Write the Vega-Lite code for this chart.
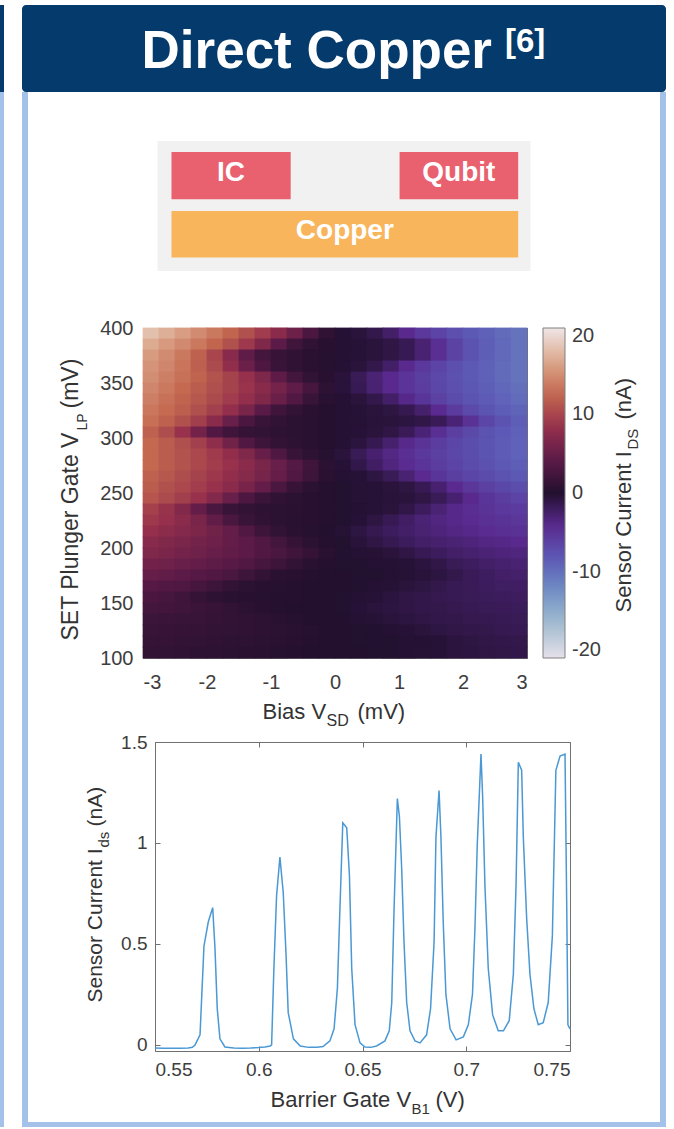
{
"$schema": "https://vega.github.io/schema/vega-lite/v6.json",
"background": "white",
"padding": {"left": 0, "top": 5, "right": 8, "bottom": 2},
"config": {
  "view": {"stroke": null},
  "font": "Liberation Sans",
  "axis": {"labelFont": "Liberation Sans", "titleFont": "Liberation Sans", "titleFontWeight": "normal", "labelColor": "#3d3d3d", "titleColor": "#333333", "domainColor": "#707070", "tickColor": "#707070", "domainWidth": 1, "tickWidth": 1, "grid": false, "zindex": 1},
  "legend": {"labelFont": "Liberation Sans"},
  "text": {"font": "Liberation Sans"}
},
"datasets": {
"heat": [
{"x":-2.875,"y":395,"v":18.4},{"x":-2.625,"y":395,"v":17.3},{"x":-2.375,"y":395,"v":16.1},{"x":-2.125,"y":395,"v":14.9},{"x":-1.875,"y":395,"v":13.7},{"x":-1.625,"y":395,"v":12.4},{"x":-1.375,"y":395,"v":10.9},{"x":-1.125,"y":395,"v":9.3},{"x":-0.875,"y":395,"v":7.5},{"x":-0.625,"y":395,"v":5.4},{"x":-0.375,"y":395,"v":3.0},{"x":-0.125,"y":395,"v":1.0},{"x":0.125,"y":395,"v":-0.2},{"x":0.375,"y":395,"v":-0.6},{"x":0.625,"y":395,"v":-1.3},{"x":0.875,"y":395,"v":-2.5},{"x":1.125,"y":395,"v":-4.1},{"x":1.375,"y":395,"v":-5.5},{"x":1.625,"y":395,"v":-6.5},{"x":1.875,"y":395,"v":-7.4},{"x":2.125,"y":395,"v":-8.3},{"x":2.375,"y":395,"v":-8.9},{"x":2.625,"y":395,"v":-9.6},{"x":2.875,"y":395,"v":-10.2},
{"x":-2.875,"y":385,"v":17.0},{"x":-2.625,"y":385,"v":15.9},{"x":-2.375,"y":385,"v":14.8},{"x":-2.125,"y":385,"v":13.7},{"x":-1.875,"y":385,"v":12.4},{"x":-1.625,"y":385,"v":10.9},{"x":-1.375,"y":385,"v":9.1},{"x":-1.125,"y":385,"v":6.8},{"x":-0.875,"y":385,"v":4.2},{"x":-0.625,"y":385,"v":2.2},{"x":-0.375,"y":385,"v":1.0},{"x":-0.125,"y":385,"v":0.4},{"x":0.125,"y":385,"v":-0.2},{"x":0.375,"y":385,"v":-0.4},{"x":0.625,"y":385,"v":-0.6},{"x":0.875,"y":385,"v":-1.0},{"x":1.125,"y":385,"v":-1.6},{"x":1.375,"y":385,"v":-2.9},{"x":1.625,"y":385,"v":-4.6},{"x":1.875,"y":385,"v":-6.4},{"x":2.125,"y":385,"v":-7.7},{"x":2.375,"y":385,"v":-8.7},{"x":2.625,"y":385,"v":-9.5},{"x":2.875,"y":385,"v":-10.2},
{"x":-2.875,"y":375,"v":16.0},{"x":-2.625,"y":375,"v":14.9},{"x":-2.375,"y":375,"v":13.7},{"x":-2.125,"y":375,"v":12.1},{"x":-1.875,"y":375,"v":10.0},{"x":-1.625,"y":375,"v":7.3},{"x":-1.375,"y":375,"v":4.5},{"x":-1.125,"y":375,"v":2.5},{"x":-0.875,"y":375,"v":1.5},{"x":-0.625,"y":375,"v":1.0},{"x":-0.375,"y":375,"v":0.6},{"x":-0.125,"y":375,"v":0.3},{"x":0.125,"y":375,"v":-0.2},{"x":0.375,"y":375,"v":-0.4},{"x":0.625,"y":375,"v":-0.6},{"x":0.875,"y":375,"v":-1.0},{"x":1.125,"y":375,"v":-1.6},{"x":1.375,"y":375,"v":-2.9},{"x":1.625,"y":375,"v":-4.6},{"x":1.875,"y":375,"v":-6.4},{"x":2.125,"y":375,"v":-7.7},{"x":2.375,"y":375,"v":-8.7},{"x":2.625,"y":375,"v":-9.5},{"x":2.875,"y":375,"v":-10.2},
{"x":-2.875,"y":365,"v":15.5},{"x":-2.625,"y":365,"v":14.6},{"x":-2.375,"y":365,"v":13.4},{"x":-2.125,"y":365,"v":12.0},{"x":-1.875,"y":365,"v":10.4},{"x":-1.625,"y":365,"v":8.0},{"x":-1.375,"y":365,"v":5.3},{"x":-1.125,"y":365,"v":3.1},{"x":-0.875,"y":365,"v":1.7},{"x":-0.625,"y":365,"v":1.0},{"x":-0.375,"y":365,"v":0.6},{"x":-0.125,"y":365,"v":0.3},{"x":0.125,"y":365,"v":-0.2},{"x":0.375,"y":365,"v":-0.6},{"x":0.625,"y":365,"v":-1.3},{"x":0.875,"y":365,"v":-2.5},{"x":1.125,"y":365,"v":-4.1},{"x":1.375,"y":365,"v":-5.5},{"x":1.625,"y":365,"v":-6.5},{"x":1.875,"y":365,"v":-7.4},{"x":2.125,"y":365,"v":-8.3},{"x":2.375,"y":365,"v":-8.9},{"x":2.625,"y":365,"v":-9.6},{"x":2.875,"y":365,"v":-10.2},
{"x":-2.875,"y":355,"v":15.1},{"x":-2.625,"y":355,"v":14.1},{"x":-2.375,"y":355,"v":13.2},{"x":-2.125,"y":355,"v":12.2},{"x":-1.875,"y":355,"v":11.0},{"x":-1.625,"y":355,"v":9.8},{"x":-1.375,"y":355,"v":8.4},{"x":-1.125,"y":355,"v":6.6},{"x":-0.875,"y":355,"v":4.4},{"x":-0.625,"y":355,"v":2.4},{"x":-0.375,"y":355,"v":1.1},{"x":-0.125,"y":355,"v":0.4},{"x":0.125,"y":355,"v":-0.5},{"x":0.375,"y":355,"v":-1.7},{"x":0.625,"y":355,"v":-3.0},{"x":0.875,"y":355,"v":-4.1},{"x":1.125,"y":355,"v":-5.1},{"x":1.375,"y":355,"v":-6.0},{"x":1.625,"y":355,"v":-6.8},{"x":1.875,"y":355,"v":-7.6},{"x":2.125,"y":355,"v":-8.3},{"x":2.375,"y":355,"v":-8.9},{"x":2.625,"y":355,"v":-9.6},{"x":2.875,"y":355,"v":-10.2},
{"x":-2.875,"y":345,"v":14.6},{"x":-2.625,"y":345,"v":13.7},{"x":-2.375,"y":345,"v":12.7},{"x":-2.125,"y":345,"v":11.8},{"x":-1.875,"y":345,"v":10.8},{"x":-1.625,"y":345,"v":9.8},{"x":-1.375,"y":345,"v":8.7},{"x":-1.125,"y":345,"v":7.4},{"x":-0.875,"y":345,"v":6.0},{"x":-0.625,"y":345,"v":4.5},{"x":-0.375,"y":345,"v":2.7},{"x":-0.125,"y":345,"v":0.9},{"x":0.125,"y":345,"v":-0.5},{"x":0.375,"y":345,"v":-1.6},{"x":0.625,"y":345,"v":-2.9},{"x":0.875,"y":345,"v":-4.1},{"x":1.125,"y":345,"v":-5.1},{"x":1.375,"y":345,"v":-5.9},{"x":1.625,"y":345,"v":-6.7},{"x":1.875,"y":345,"v":-7.4},{"x":2.125,"y":345,"v":-8.1},{"x":2.375,"y":345,"v":-8.7},{"x":2.625,"y":345,"v":-9.4},{"x":2.875,"y":345,"v":-10.0},
{"x":-2.875,"y":335,"v":14.1},{"x":-2.625,"y":335,"v":13.2},{"x":-2.375,"y":335,"v":12.3},{"x":-2.125,"y":335,"v":11.4},{"x":-1.875,"y":335,"v":10.4},{"x":-1.625,"y":335,"v":9.3},{"x":-1.375,"y":335,"v":8.2},{"x":-1.125,"y":335,"v":6.8},{"x":-0.875,"y":335,"v":5.2},{"x":-0.625,"y":335,"v":3.3},{"x":-0.375,"y":335,"v":1.6},{"x":-0.125,"y":335,"v":0.5},{"x":0.125,"y":335,"v":-0.2},{"x":0.375,"y":335,"v":-0.6},{"x":0.625,"y":335,"v":-1.3},{"x":0.875,"y":335,"v":-2.4},{"x":1.125,"y":335,"v":-3.9},{"x":1.375,"y":335,"v":-5.2},{"x":1.625,"y":335,"v":-6.2},{"x":1.875,"y":335,"v":-7.1},{"x":2.125,"y":335,"v":-7.9},{"x":2.375,"y":335,"v":-8.5},{"x":2.625,"y":335,"v":-9.1},{"x":2.875,"y":335,"v":-9.7},
{"x":-2.875,"y":325,"v":13.6},{"x":-2.625,"y":325,"v":12.8},{"x":-2.375,"y":325,"v":11.9},{"x":-2.125,"y":325,"v":10.8},{"x":-1.875,"y":325,"v":9.6},{"x":-1.625,"y":325,"v":8.2},{"x":-1.375,"y":325,"v":6.3},{"x":-1.125,"y":325,"v":4.0},{"x":-0.875,"y":325,"v":2.2},{"x":-0.625,"y":325,"v":1.2},{"x":-0.375,"y":325,"v":0.6},{"x":-0.125,"y":325,"v":0.2},{"x":0.125,"y":325,"v":-0.2},{"x":0.375,"y":325,"v":-0.4},{"x":0.625,"y":325,"v":-0.6},{"x":0.875,"y":325,"v":-0.9},{"x":1.125,"y":325,"v":-1.5},{"x":1.375,"y":325,"v":-2.6},{"x":1.625,"y":325,"v":-4.2},{"x":1.875,"y":325,"v":-5.8},{"x":2.125,"y":325,"v":-7.0},{"x":2.375,"y":325,"v":-7.9},{"x":2.625,"y":325,"v":-8.6},{"x":2.875,"y":325,"v":-9.2},
{"x":-2.875,"y":315,"v":13.1},{"x":-2.625,"y":315,"v":12.1},{"x":-2.375,"y":315,"v":10.9},{"x":-2.125,"y":315,"v":9.5},{"x":-1.875,"y":315,"v":7.5},{"x":-1.625,"y":315,"v":5.1},{"x":-1.375,"y":315,"v":3.0},{"x":-1.125,"y":315,"v":1.7},{"x":-0.875,"y":315,"v":1.1},{"x":-0.625,"y":315,"v":0.7},{"x":-0.375,"y":315,"v":0.5},{"x":-0.125,"y":315,"v":0.2},{"x":0.125,"y":315,"v":-0.2},{"x":0.375,"y":315,"v":-0.3},{"x":0.625,"y":315,"v":-0.5},{"x":0.875,"y":315,"v":-0.6},{"x":1.125,"y":315,"v":-0.8},{"x":1.375,"y":315,"v":-1.1},{"x":1.625,"y":315,"v":-1.8},{"x":1.875,"y":315,"v":-3.1},{"x":2.125,"y":315,"v":-4.9},{"x":2.375,"y":315,"v":-6.6},{"x":2.625,"y":315,"v":-7.8},{"x":2.875,"y":315,"v":-8.7},
{"x":-2.875,"y":305,"v":12.1},{"x":-2.625,"y":305,"v":10.6},{"x":-2.375,"y":305,"v":8.5},{"x":-2.125,"y":305,"v":5.9},{"x":-1.875,"y":305,"v":3.5},{"x":-1.625,"y":305,"v":2.1},{"x":-1.375,"y":305,"v":1.4},{"x":-1.125,"y":305,"v":1.1},{"x":-0.875,"y":305,"v":0.9},{"x":-0.625,"y":305,"v":0.7},{"x":-0.375,"y":305,"v":0.5},{"x":-0.125,"y":305,"v":0.2},{"x":0.125,"y":305,"v":-0.2},{"x":0.375,"y":305,"v":-0.4},{"x":0.625,"y":305,"v":-0.6},{"x":0.875,"y":305,"v":-1.0},{"x":1.125,"y":305,"v":-1.8},{"x":1.375,"y":305,"v":-3.1},{"x":1.625,"y":305,"v":-4.6},{"x":1.875,"y":305,"v":-6.0},{"x":2.125,"y":305,"v":-6.9},{"x":2.375,"y":305,"v":-7.7},{"x":2.625,"y":305,"v":-8.4},{"x":2.875,"y":305,"v":-8.9},
{"x":-2.875,"y":295,"v":12.6},{"x":-2.625,"y":295,"v":11.7},{"x":-2.375,"y":295,"v":10.8},{"x":-2.125,"y":295,"v":9.6},{"x":-1.875,"y":295,"v":7.9},{"x":-1.625,"y":295,"v":5.7},{"x":-1.375,"y":295,"v":3.5},{"x":-1.125,"y":295,"v":2.0},{"x":-0.875,"y":295,"v":1.2},{"x":-0.625,"y":295,"v":0.8},{"x":-0.375,"y":295,"v":0.5},{"x":-0.125,"y":295,"v":0.2},{"x":0.125,"y":295,"v":-0.2},{"x":0.375,"y":295,"v":-0.7},{"x":0.625,"y":295,"v":-1.5},{"x":0.875,"y":295,"v":-2.7},{"x":1.125,"y":295,"v":-4.0},{"x":1.375,"y":295,"v":-5.0},{"x":1.625,"y":295,"v":-5.9},{"x":1.875,"y":295,"v":-6.6},{"x":2.125,"y":295,"v":-7.3},{"x":2.375,"y":295,"v":-7.9},{"x":2.625,"y":295,"v":-8.5},{"x":2.875,"y":295,"v":-9.0},
{"x":-2.875,"y":285,"v":12.6},{"x":-2.625,"y":285,"v":11.8},{"x":-2.375,"y":285,"v":11.0},{"x":-2.125,"y":285,"v":10.2},{"x":-1.875,"y":285,"v":9.2},{"x":-1.625,"y":285,"v":8.1},{"x":-1.375,"y":285,"v":6.8},{"x":-1.125,"y":285,"v":5.0},{"x":-0.875,"y":285,"v":3.2},{"x":-0.625,"y":285,"v":1.6},{"x":-0.375,"y":285,"v":0.8},{"x":-0.125,"y":285,"v":0.3},{"x":0.125,"y":285,"v":-0.6},{"x":0.375,"y":285,"v":-1.7},{"x":0.625,"y":285,"v":-2.8},{"x":0.875,"y":285,"v":-3.7},{"x":1.125,"y":285,"v":-4.6},{"x":1.375,"y":285,"v":-5.4},{"x":1.625,"y":285,"v":-6.1},{"x":1.875,"y":285,"v":-6.7},{"x":2.125,"y":285,"v":-7.3},{"x":2.375,"y":285,"v":-7.9},{"x":2.625,"y":285,"v":-8.5},{"x":2.875,"y":285,"v":-9.0},
{"x":-2.875,"y":275,"v":12.6},{"x":-2.625,"y":275,"v":11.8},{"x":-2.375,"y":275,"v":11.0},{"x":-2.125,"y":275,"v":10.2},{"x":-1.875,"y":275,"v":9.4},{"x":-1.625,"y":275,"v":8.5},{"x":-1.375,"y":275,"v":7.5},{"x":-1.125,"y":275,"v":6.4},{"x":-0.875,"y":275,"v":5.1},{"x":-0.625,"y":275,"v":3.7},{"x":-0.375,"y":275,"v":2.1},{"x":-0.125,"y":275,"v":0.7},{"x":0.125,"y":275,"v":-0.4},{"x":0.375,"y":275,"v":-1.2},{"x":0.625,"y":275,"v":-2.3},{"x":0.875,"y":275,"v":-3.4},{"x":1.125,"y":275,"v":-4.3},{"x":1.375,"y":275,"v":-5.1},{"x":1.625,"y":275,"v":-5.9},{"x":1.875,"y":275,"v":-6.5},{"x":2.125,"y":275,"v":-7.1},{"x":2.375,"y":275,"v":-7.6},{"x":2.625,"y":275,"v":-8.2},{"x":2.875,"y":275,"v":-8.7},
{"x":-2.875,"y":265,"v":12.1},{"x":-2.625,"y":265,"v":11.4},{"x":-2.375,"y":265,"v":10.6},{"x":-2.125,"y":265,"v":9.8},{"x":-1.875,"y":265,"v":9.0},{"x":-1.625,"y":265,"v":8.1},{"x":-1.375,"y":265,"v":7.2},{"x":-1.125,"y":265,"v":6.1},{"x":-0.875,"y":265,"v":4.9},{"x":-0.625,"y":265,"v":3.5},{"x":-0.375,"y":265,"v":2.0},{"x":-0.125,"y":265,"v":0.6},{"x":0.125,"y":265,"v":-0.2},{"x":0.375,"y":265,"v":-0.4},{"x":0.625,"y":265,"v":-0.9},{"x":0.875,"y":265,"v":-1.7},{"x":1.125,"y":265,"v":-2.9},{"x":1.375,"y":265,"v":-4.2},{"x":1.625,"y":265,"v":-5.2},{"x":1.875,"y":265,"v":-6.0},{"x":2.125,"y":265,"v":-6.6},{"x":2.375,"y":265,"v":-7.2},{"x":2.625,"y":265,"v":-7.7},{"x":2.875,"y":265,"v":-8.3},
{"x":-2.875,"y":255,"v":11.7},{"x":-2.625,"y":255,"v":10.9},{"x":-2.375,"y":255,"v":10.2},{"x":-2.125,"y":255,"v":9.4},{"x":-1.875,"y":255,"v":8.5},{"x":-1.625,"y":255,"v":7.5},{"x":-1.375,"y":255,"v":6.2},{"x":-1.125,"y":255,"v":4.7},{"x":-0.875,"y":255,"v":2.9},{"x":-0.625,"y":255,"v":1.5},{"x":-0.375,"y":255,"v":0.7},{"x":-0.125,"y":255,"v":0.2},{"x":0.125,"y":255,"v":-0.1},{"x":0.375,"y":255,"v":-0.3},{"x":0.625,"y":255,"v":-0.4},{"x":0.875,"y":255,"v":-0.6},{"x":1.125,"y":255,"v":-0.9},{"x":1.375,"y":255,"v":-1.6},{"x":1.625,"y":255,"v":-2.8},{"x":1.875,"y":255,"v":-4.2},{"x":2.125,"y":255,"v":-5.3},{"x":2.375,"y":255,"v":-6.1},{"x":2.625,"y":255,"v":-6.7},{"x":2.875,"y":255,"v":-7.3},
{"x":-2.875,"y":245,"v":11.2},{"x":-2.625,"y":245,"v":10.4},{"x":-2.375,"y":245,"v":9.5},{"x":-2.125,"y":245,"v":8.5},{"x":-1.875,"y":245,"v":7.0},{"x":-1.625,"y":245,"v":5.1},{"x":-1.375,"y":245,"v":3.1},{"x":-1.125,"y":245,"v":1.8},{"x":-0.875,"y":245,"v":1.0},{"x":-0.625,"y":245,"v":0.7},{"x":-0.375,"y":245,"v":0.4},{"x":-0.125,"y":245,"v":0.2},{"x":0.125,"y":245,"v":-0.1},{"x":0.375,"y":245,"v":-0.3},{"x":0.625,"y":245,"v":-0.4},{"x":0.875,"y":245,"v":-0.5},{"x":1.125,"y":245,"v":-0.6},{"x":1.375,"y":245,"v":-1.0},{"x":1.625,"y":245,"v":-1.7},{"x":1.875,"y":245,"v":-2.8},{"x":2.125,"y":245,"v":-4.1},{"x":2.375,"y":245,"v":-5.2},{"x":2.625,"y":245,"v":-5.9},{"x":2.875,"y":245,"v":-6.5},
{"x":-2.875,"y":235,"v":9.7},{"x":-2.625,"y":235,"v":8.6},{"x":-2.375,"y":235,"v":6.9},{"x":-2.125,"y":235,"v":4.7},{"x":-1.875,"y":235,"v":2.9},{"x":-1.625,"y":235,"v":1.7},{"x":-1.375,"y":235,"v":1.2},{"x":-1.125,"y":235,"v":0.9},{"x":-0.875,"y":235,"v":0.7},{"x":-0.625,"y":235,"v":0.6},{"x":-0.375,"y":235,"v":0.4},{"x":-0.125,"y":235,"v":0.2},{"x":0.125,"y":235,"v":-0.1},{"x":0.375,"y":235,"v":-0.2},{"x":0.625,"y":235,"v":-0.4},{"x":0.875,"y":235,"v":-0.6},{"x":1.125,"y":235,"v":-1.1},{"x":1.375,"y":235,"v":-2.0},{"x":1.625,"y":235,"v":-3.0},{"x":1.875,"y":235,"v":-3.9},{"x":2.125,"y":235,"v":-4.5},{"x":2.375,"y":235,"v":-5.0},{"x":2.625,"y":235,"v":-5.5},{"x":2.875,"y":235,"v":-5.8},
{"x":-2.875,"y":225,"v":9.1},{"x":-2.625,"y":225,"v":8.4},{"x":-2.375,"y":225,"v":7.5},{"x":-2.125,"y":225,"v":6.3},{"x":-1.875,"y":225,"v":4.6},{"x":-1.625,"y":225,"v":2.9},{"x":-1.375,"y":225,"v":1.7},{"x":-1.125,"y":225,"v":1.0},{"x":-0.875,"y":225,"v":0.7},{"x":-0.625,"y":225,"v":0.5},{"x":-0.375,"y":225,"v":0.4},{"x":-0.125,"y":225,"v":0.2},{"x":0.125,"y":225,"v":-0.1},{"x":0.375,"y":225,"v":-0.4},{"x":0.625,"y":225,"v":-0.9},{"x":0.875,"y":225,"v":-1.6},{"x":1.125,"y":225,"v":-2.3},{"x":1.375,"y":225,"v":-3.0},{"x":1.625,"y":225,"v":-3.5},{"x":1.875,"y":225,"v":-3.9},{"x":2.125,"y":225,"v":-4.3},{"x":2.375,"y":225,"v":-4.7},{"x":2.625,"y":225,"v":-5.0},{"x":2.875,"y":225,"v":-5.3},
{"x":-2.875,"y":215,"v":8.3},{"x":-2.625,"y":215,"v":7.7},{"x":-2.375,"y":215,"v":7.1},{"x":-2.125,"y":215,"v":6.5},{"x":-1.875,"y":215,"v":5.7},{"x":-1.625,"y":215,"v":4.7},{"x":-1.375,"y":215,"v":3.3},{"x":-1.125,"y":215,"v":2.0},{"x":-0.875,"y":215,"v":1.1},{"x":-0.625,"y":215,"v":0.6},{"x":-0.375,"y":215,"v":0.3},{"x":-0.125,"y":215,"v":0.1},{"x":0.125,"y":215,"v":-0.3},{"x":0.375,"y":215,"v":-0.9},{"x":0.625,"y":215,"v":-1.5},{"x":0.875,"y":215,"v":-2.0},{"x":1.125,"y":215,"v":-2.5},{"x":1.375,"y":215,"v":-2.9},{"x":1.625,"y":215,"v":-3.3},{"x":1.875,"y":215,"v":-3.6},{"x":2.125,"y":215,"v":-3.9},{"x":2.375,"y":215,"v":-4.3},{"x":2.625,"y":215,"v":-4.6},{"x":2.875,"y":215,"v":-4.9},
{"x":-2.875,"y":205,"v":7.3},{"x":-2.625,"y":205,"v":6.8},{"x":-2.375,"y":205,"v":6.4},{"x":-2.125,"y":205,"v":5.9},{"x":-1.875,"y":205,"v":5.4},{"x":-1.625,"y":205,"v":4.8},{"x":-1.375,"y":205,"v":4.1},{"x":-1.125,"y":205,"v":3.4},{"x":-0.875,"y":205,"v":2.4},{"x":-0.625,"y":205,"v":1.4},{"x":-0.375,"y":205,"v":0.7},{"x":-0.125,"y":205,"v":0.2},{"x":0.125,"y":205,"v":-0.1},{"x":0.375,"y":205,"v":-0.5},{"x":0.625,"y":205,"v":-1.0},{"x":0.875,"y":205,"v":-1.5},{"x":1.125,"y":205,"v":-2.0},{"x":1.375,"y":205,"v":-2.4},{"x":1.625,"y":205,"v":-2.7},{"x":1.875,"y":205,"v":-3.0},{"x":2.125,"y":205,"v":-3.3},{"x":2.375,"y":205,"v":-3.6},{"x":2.625,"y":205,"v":-3.8},{"x":2.875,"y":205,"v":-4.1},
{"x":-2.875,"y":195,"v":6.8},{"x":-2.625,"y":195,"v":6.4},{"x":-2.375,"y":195,"v":5.9},{"x":-2.125,"y":195,"v":5.5},{"x":-1.875,"y":195,"v":5.0},{"x":-1.625,"y":195,"v":4.6},{"x":-1.375,"y":195,"v":4.1},{"x":-1.125,"y":195,"v":3.5},{"x":-0.875,"y":195,"v":2.9},{"x":-0.625,"y":195,"v":2.2},{"x":-0.375,"y":195,"v":1.4},{"x":-0.125,"y":195,"v":0.5},{"x":0.125,"y":195,"v":-0.1},{"x":0.375,"y":195,"v":-0.2},{"x":0.625,"y":195,"v":-0.3},{"x":0.875,"y":195,"v":-0.6},{"x":1.125,"y":195,"v":-1.0},{"x":1.375,"y":195,"v":-1.6},{"x":1.625,"y":195,"v":-2.0},{"x":1.875,"y":195,"v":-2.4},{"x":2.125,"y":195,"v":-2.7},{"x":2.375,"y":195,"v":-3.0},{"x":2.625,"y":195,"v":-3.2},{"x":2.875,"y":195,"v":-3.4},
{"x":-2.875,"y":185,"v":5.8},{"x":-2.625,"y":185,"v":5.5},{"x":-2.375,"y":185,"v":5.1},{"x":-2.125,"y":185,"v":4.7},{"x":-1.875,"y":185,"v":4.3},{"x":-1.625,"y":185,"v":3.9},{"x":-1.375,"y":185,"v":3.3},{"x":-1.125,"y":185,"v":2.7},{"x":-0.875,"y":185,"v":2.0},{"x":-0.625,"y":185,"v":1.2},{"x":-0.375,"y":185,"v":0.5},{"x":-0.125,"y":185,"v":0.2},{"x":0.125,"y":185,"v":-0.1},{"x":0.375,"y":185,"v":-0.1},{"x":0.625,"y":185,"v":-0.2},{"x":0.875,"y":185,"v":-0.2},{"x":1.125,"y":185,"v":-0.4},{"x":1.375,"y":185,"v":-0.7},{"x":1.625,"y":185,"v":-1.1},{"x":1.875,"y":185,"v":-1.7},{"x":2.125,"y":185,"v":-2.1},{"x":2.375,"y":185,"v":-2.4},{"x":2.625,"y":185,"v":-2.7},{"x":2.875,"y":185,"v":-2.9},
{"x":-2.875,"y":175,"v":4.9},{"x":-2.625,"y":175,"v":4.6},{"x":-2.375,"y":175,"v":4.2},{"x":-2.125,"y":175,"v":3.8},{"x":-1.875,"y":175,"v":3.4},{"x":-1.625,"y":175,"v":2.8},{"x":-1.375,"y":175,"v":2.0},{"x":-1.125,"y":175,"v":1.2},{"x":-0.875,"y":175,"v":0.6},{"x":-0.625,"y":175,"v":0.4},{"x":-0.375,"y":175,"v":0.2},{"x":-0.125,"y":175,"v":0.1},{"x":0.125,"y":175,"v":0},{"x":0.375,"y":175,"v":-0.1},{"x":0.625,"y":175,"v":-0.1},{"x":0.875,"y":175,"v":-0.2},{"x":1.125,"y":175,"v":-0.3},{"x":1.375,"y":175,"v":-0.5},{"x":1.625,"y":175,"v":-0.8},{"x":1.875,"y":175,"v":-1.3},{"x":2.125,"y":175,"v":-1.8},{"x":2.375,"y":175,"v":-2.1},{"x":2.625,"y":175,"v":-2.4},{"x":2.875,"y":175,"v":-2.6},
{"x":-2.875,"y":165,"v":3.8},{"x":-2.625,"y":165,"v":3.5},{"x":-2.375,"y":165,"v":3.2},{"x":-2.125,"y":165,"v":2.7},{"x":-1.875,"y":165,"v":2.0},{"x":-1.625,"y":165,"v":1.2},{"x":-1.375,"y":165,"v":0.7},{"x":-1.125,"y":165,"v":0.4},{"x":-0.875,"y":165,"v":0.3},{"x":-0.625,"y":165,"v":0.2},{"x":-0.375,"y":165,"v":0.1},{"x":-0.125,"y":165,"v":0.1},{"x":0.125,"y":165,"v":0},{"x":0.375,"y":165,"v":-0.1},{"x":0.625,"y":165,"v":-0.2},{"x":0.875,"y":165,"v":-0.3},{"x":1.125,"y":165,"v":-0.6},{"x":1.375,"y":165,"v":-0.9},{"x":1.625,"y":165,"v":-1.3},{"x":1.875,"y":165,"v":-1.6},{"x":2.125,"y":165,"v":-1.8},{"x":2.375,"y":165,"v":-2.0},{"x":2.625,"y":165,"v":-2.2},{"x":2.875,"y":165,"v":-2.3},
{"x":-2.875,"y":155,"v":3.0},{"x":-2.625,"y":155,"v":2.6},{"x":-2.375,"y":155,"v":2.1},{"x":-2.125,"y":155,"v":1.4},{"x":-1.875,"y":155,"v":0.9},{"x":-1.625,"y":155,"v":0.5},{"x":-1.375,"y":155,"v":0.4},{"x":-1.125,"y":155,"v":0.3},{"x":-0.875,"y":155,"v":0.2},{"x":-0.625,"y":155,"v":0.2},{"x":-0.375,"y":155,"v":0.1},{"x":-0.125,"y":155,"v":0.1},{"x":0.125,"y":155,"v":-0.1},{"x":0.375,"y":155,"v":-0.2},{"x":0.625,"y":155,"v":-0.4},{"x":0.875,"y":155,"v":-0.7},{"x":1.125,"y":155,"v":-1.0},{"x":1.375,"y":155,"v":-1.2},{"x":1.625,"y":155,"v":-1.4},{"x":1.875,"y":155,"v":-1.6},{"x":2.125,"y":155,"v":-1.7},{"x":2.375,"y":155,"v":-1.9},{"x":2.625,"y":155,"v":-2.0},{"x":2.875,"y":155,"v":-2.1},
{"x":-2.875,"y":145,"v":2.4},{"x":-2.625,"y":145,"v":2.3},{"x":-2.375,"y":145,"v":2.1},{"x":-2.125,"y":145,"v":1.8},{"x":-1.875,"y":145,"v":1.5},{"x":-1.625,"y":145,"v":1.1},{"x":-1.375,"y":145,"v":0.7},{"x":-1.125,"y":145,"v":0.4},{"x":-0.875,"y":145,"v":0.2},{"x":-0.625,"y":145,"v":0.1},{"x":-0.375,"y":145,"v":0.1},{"x":-0.125,"y":145,"v":0},{"x":0.125,"y":145,"v":-0.1},{"x":0.375,"y":145,"v":-0.4},{"x":0.625,"y":145,"v":-0.6},{"x":0.875,"y":145,"v":-0.8},{"x":1.125,"y":145,"v":-1.0},{"x":1.375,"y":145,"v":-1.2},{"x":1.625,"y":145,"v":-1.3},{"x":1.875,"y":145,"v":-1.4},{"x":2.125,"y":145,"v":-1.6},{"x":2.375,"y":145,"v":-1.7},{"x":2.625,"y":145,"v":-1.8},{"x":2.875,"y":145,"v":-1.9},
{"x":-2.875,"y":135,"v":1.9},{"x":-2.625,"y":135,"v":1.8},{"x":-2.375,"y":135,"v":1.7},{"x":-2.125,"y":135,"v":1.6},{"x":-1.875,"y":135,"v":1.4},{"x":-1.625,"y":135,"v":1.2},{"x":-1.375,"y":135,"v":1.0},{"x":-1.125,"y":135,"v":0.8},{"x":-0.875,"y":135,"v":0.5},{"x":-0.625,"y":135,"v":0.3},{"x":-0.375,"y":135,"v":0.1},{"x":-0.125,"y":135,"v":0},{"x":0.125,"y":135,"v":0},{"x":0.375,"y":135,"v":-0.2},{"x":0.625,"y":135,"v":-0.3},{"x":0.875,"y":135,"v":-0.6},{"x":1.125,"y":135,"v":-0.8},{"x":1.375,"y":135,"v":-1.0},{"x":1.625,"y":135,"v":-1.2},{"x":1.875,"y":135,"v":-1.3},{"x":2.125,"y":135,"v":-1.4},{"x":2.375,"y":135,"v":-1.5},{"x":2.625,"y":135,"v":-1.6},{"x":2.875,"y":135,"v":-1.7},
{"x":-2.875,"y":125,"v":1.7},{"x":-2.625,"y":125,"v":1.5},{"x":-2.375,"y":125,"v":1.4},{"x":-2.125,"y":125,"v":1.3},{"x":-1.875,"y":125,"v":1.2},{"x":-1.625,"y":125,"v":1.1},{"x":-1.375,"y":125,"v":1.0},{"x":-1.125,"y":125,"v":0.8},{"x":-0.875,"y":125,"v":0.7},{"x":-0.625,"y":125,"v":0.5},{"x":-0.375,"y":125,"v":0.3},{"x":-0.125,"y":125,"v":0.1},{"x":0.125,"y":125,"v":0},{"x":0.375,"y":125,"v":-0.1},{"x":0.625,"y":125,"v":-0.1},{"x":0.875,"y":125,"v":-0.2},{"x":1.125,"y":125,"v":-0.4},{"x":1.375,"y":125,"v":-0.6},{"x":1.625,"y":125,"v":-0.9},{"x":1.875,"y":125,"v":-1.1},{"x":2.125,"y":125,"v":-1.2},{"x":2.375,"y":125,"v":-1.3},{"x":2.625,"y":125,"v":-1.5},{"x":2.875,"y":125,"v":-1.6},
{"x":-2.875,"y":115,"v":1.4},{"x":-2.625,"y":115,"v":1.3},{"x":-2.375,"y":115,"v":1.2},{"x":-2.125,"y":115,"v":1.1},{"x":-1.875,"y":115,"v":1.0},{"x":-1.625,"y":115,"v":0.9},{"x":-1.375,"y":115,"v":0.8},{"x":-1.125,"y":115,"v":0.7},{"x":-0.875,"y":115,"v":0.6},{"x":-0.625,"y":115,"v":0.4},{"x":-0.375,"y":115,"v":0.2},{"x":-0.125,"y":115,"v":0.1},{"x":0.125,"y":115,"v":0},{"x":0.375,"y":115,"v":-0.1},{"x":0.625,"y":115,"v":-0.1},{"x":0.875,"y":115,"v":-0.1},{"x":1.125,"y":115,"v":-0.2},{"x":1.375,"y":115,"v":-0.2},{"x":1.625,"y":115,"v":-0.4},{"x":1.875,"y":115,"v":-0.7},{"x":2.125,"y":115,"v":-0.9},{"x":2.375,"y":115,"v":-1.1},{"x":2.625,"y":115,"v":-1.2},{"x":2.875,"y":115,"v":-1.3},
{"x":-2.875,"y":105,"v":1.2},{"x":-2.625,"y":105,"v":1.1},{"x":-2.375,"y":105,"v":1.0},{"x":-2.125,"y":105,"v":0.9},{"x":-1.875,"y":105,"v":0.8},{"x":-1.625,"y":105,"v":0.7},{"x":-1.375,"y":105,"v":0.6},{"x":-1.125,"y":105,"v":0.5},{"x":-0.875,"y":105,"v":0.3},{"x":-0.625,"y":105,"v":0.2},{"x":-0.375,"y":105,"v":0.1},{"x":-0.125,"y":105,"v":0},{"x":0.125,"y":105,"v":0},{"x":0.375,"y":105,"v":0},{"x":0.625,"y":105,"v":-0.1},{"x":0.875,"y":105,"v":-0.1},{"x":1.125,"y":105,"v":-0.2},{"x":1.375,"y":105,"v":-0.3},{"x":1.625,"y":105,"v":-0.4},{"x":1.875,"y":105,"v":-0.7},{"x":2.125,"y":105,"v":-0.8},{"x":2.375,"y":105,"v":-1.0},{"x":2.625,"y":105,"v":-1.1},{"x":2.875,"y":105,"v":-1.2}
],
"trace": [
{"vb":0.550,"i":-0.015},{"vb":0.554,"i":-0.016},{"vb":0.558,"i":-0.016},{"vb":0.562,"i":-0.016},{"vb":0.566,"i":-0.015},{"vb":0.568,"i":-0.012},{"vb":0.5693,"i":0.0},{"vb":0.5717,"i":0.05},{"vb":0.5736,"i":0.49},{"vb":0.5757,"i":0.61},{"vb":0.5778,"i":0.68},{"vb":0.5789,"i":0.48},{"vb":0.58,"i":0.18},{"vb":0.5813,"i":0.03},{"vb":0.5837,"i":-0.01},{"vb":0.588,"i":-0.015},{"vb":0.592,"i":-0.016},{"vb":0.596,"i":-0.015},{"vb":0.6,"i":-0.013},{"vb":0.603,"i":-0.01},{"vb":0.6055,"i":-0.005},{"vb":0.6062,"i":0.0},{"vb":0.6073,"i":0.38},{"vb":0.6086,"i":0.74},{"vb":0.6102,"i":0.93},{"vb":0.6118,"i":0.755},{"vb":0.6131,"i":0.46},{"vb":0.6142,"i":0.16},{"vb":0.6167,"i":0.03},{"vb":0.62,"i":-0.005},{"vb":0.624,"i":-0.012},{"vb":0.628,"i":-0.012},{"vb":0.631,"i":-0.008},{"vb":0.6343,"i":0.02},{"vb":0.6363,"i":0.08},{"vb":0.6379,"i":0.28},{"vb":0.6392,"i":0.7},{"vb":0.6405,"i":1.1},{"vb":0.6424,"i":1.075},{"vb":0.6437,"i":0.84},{"vb":0.6448,"i":0.38},{"vb":0.6464,"i":0.1},{"vb":0.6488,"i":0.01},{"vb":0.6512,"i":-0.01},{"vb":0.654,"i":-0.012},{"vb":0.6568,"i":-0.005},{"vb":0.6608,"i":0.02},{"vb":0.6629,"i":0.07},{"vb":0.6641,"i":0.21},{"vb":0.6652,"i":0.67},{"vb":0.6668,"i":1.22},{"vb":0.6678,"i":1.13},{"vb":0.6689,"i":0.87},{"vb":0.67,"i":0.51},{"vb":0.6713,"i":0.21},{"vb":0.6729,"i":0.07},{"vb":0.6753,"i":0.02},{"vb":0.6777,"i":0.01},{"vb":0.6809,"i":0.05},{"vb":0.6828,"i":0.18},{"vb":0.6845,"i":0.51},{"vb":0.6854,"i":1.03},{"vb":0.6869,"i":1.26},{"vb":0.6878,"i":1.03},{"vb":0.6889,"i":0.61},{"vb":0.6902,"i":0.25},{"vb":0.6922,"i":0.08},{"vb":0.6951,"i":0.025},{"vb":0.6986,"i":0.04},{"vb":0.701,"i":0.1},{"vb":0.703,"i":0.25},{"vb":0.7042,"i":0.58},{"vb":0.7053,"i":0.99},{"vb":0.7071,"i":1.44},{"vb":0.7079,"i":1.23},{"vb":0.709,"i":0.79},{"vb":0.7106,"i":0.38},{"vb":0.7127,"i":0.15},{"vb":0.7154,"i":0.07},{"vb":0.7179,"i":0.07},{"vb":0.7207,"i":0.12},{"vb":0.7227,"i":0.35},{"vb":0.724,"i":0.79},{"vb":0.7251,"i":1.4},{"vb":0.7267,"i":1.36},{"vb":0.7275,"i":1.03},{"vb":0.7291,"i":0.63},{"vb":0.7307,"i":0.35},{"vb":0.7326,"i":0.18},{"vb":0.7347,"i":0.1},{"vb":0.7371,"i":0.11},{"vb":0.7395,"i":0.21},{"vb":0.7415,"i":0.54},{"vb":0.7432,"i":1.36},{"vb":0.7452,"i":1.43},{"vb":0.7476,"i":1.44},{"vb":0.7484,"i":0.71},{"vb":0.749,"i":0.1},{"vb":0.75,"i":0.08}
]
},
"hconcat": [
  {
    "vconcat": [
      {"width": 4, "height": 87, "view": {"fill": "#053b6c"}, "data": {"values": []}, "mark": "point", "encoding": {}},
      {"width": 4, "height": 1035, "view": {"fill": "#a4c1ea"}, "data": {"values": []}, "mark": "point", "encoding": {}}
    ],
    "spacing": 0
  },
  {
    "vconcat": [
      {
        "width": 644, "height": 87,
        "view": {"fill": "#053b6c", "cornerRadius": 4},
        "data": {"values": [{"t": "Direct Copper", "r": "[6]"}]},
        "layer": [
          {"mark": {"type": "text", "align": "right", "baseline": "alphabetic", "dx": 148, "dy": 19.5, "fontSize": 53, "fontWeight": "bold", "color": "white", "font": "Liberation Sans"}, "encoding": {"text": {"field": "t"}}},
          {"mark": {"type": "text", "align": "left", "baseline": "alphabetic", "dx": 161, "dy": 3.5, "fontSize": 33, "fontWeight": "bold", "color": "white", "font": "Liberation Sans"}, "encoding": {"text": {"field": "r"}}}
        ]
      },
      {
        "hconcat": [
          {"width": 6, "height": 1030, "view": {"fill": "#a4c1ea"}, "data": {"values": []}, "mark": "point", "encoding": {}},
          {
            "vconcat": [
              {"width": 632, "height": 49, "data": {"values": []}, "mark": "point", "encoding": {}},
              {
                "width": 373, "height": 130,
                "view": {"fill": "#f1f1f1"},
                "data": {"values": [
                  {"part": "IC", "x0": 3.75, "x1": 35.7, "y0": 8.5, "y1": 44.8},
                  {"part": "Qubit", "x0": 64.9, "x1": 96.7, "y0": 8.5, "y1": 44.8},
                  {"part": "Copper", "x0": 3.75, "x1": 96.7, "y0": 53.8, "y1": 89.7}
                ]},
                "transform": [
                  {"calculate": "(datum.x0 + datum.x1) / 2", "as": "xm"},
                  {"calculate": "(datum.y0 + datum.y1) / 2", "as": "ym"}
                ],
                "layer": [
                  {
                    "mark": {"type": "rect"},
                    "encoding": {
                      "x": {"field": "x0", "type": "quantitative", "scale": {"domain": [0, 100], "nice": false}, "axis": null},
                      "x2": {"field": "x1"},
                      "y": {"field": "y0", "type": "quantitative", "scale": {"domain": [0, 100], "nice": false, "reverse": true}, "axis": null},
                      "y2": {"field": "y1"},
                      "color": {"field": "part", "type": "nominal", "scale": {"domain": ["IC", "Qubit", "Copper"], "range": ["#e9606f", "#e9606f", "#f8b55c"]}, "legend": null}
                    }
                  },
                  {
                    "mark": {"type": "text", "fontSize": 28, "fontWeight": "bold", "color": "white", "baseline": "middle", "dy": -3, "font": "Liberation Sans"},
                    "encoding": {
                      "x": {"field": "xm", "type": "quantitative"},
                      "y": {"field": "ym", "type": "quantitative"},
                      "text": {"field": "part"}
                    }
                  }
                ]
              },
              {"width": 632, "height": 57, "data": {"values": []}, "mark": "point", "encoding": {}},
              {
                "width": 402, "height": 330,
                "data": {"name": "heat"},
                "layer": [
                  {
                    "mark": {"type": "rect", "width": 16.7, "height": 11.8},
                    "encoding": {
                      "x": {"field": "x", "type": "quantitative", "scale": {"domain": [-3, 3], "range": [0, 384], "nice": false, "zero": false},
                        "axis": {"orient": "bottom", "values": [-3, -2, -1, 0, 1, 2, 3], "labelExpr": "datum.value", "ticks": false, "labelFontSize": 20, "labelPadding": 14,
                          "title": "Bias V", "titleFontSize": 22, "titleX": 119, "titleY": 60, "titleAlign": "left", "titleBaseline": "alphabetic"}},
                      "y": {"field": "y", "type": "quantitative", "scale": {"domain": [100, 400], "nice": false, "zero": false},
                        "axis": {"orient": "left", "values": [100, 150, 200, 250, 300, 350, 400], "labelExpr": "datum.value", "ticks": false, "labelFontSize": 20, "labelPadding": 10,
                          "title": "SET Plunger Gate V", "titleFontSize": 23, "titleX": -66, "titleY": 312, "titleAngle": 270, "titleAlign": "left", "titleBaseline": "alphabetic"}},
                      "color": {"field": "v", "type": "quantitative",
                        "scale": {"domain": [-21, -16.8, -12.6, -8.4, -4.2, 0, 4.2, 8.4, 12.6, 16.8, 21],
                          "range": ["#e6e0ea", "#a4bdd0", "#7191c5", "#5c5ab6", "#5a2a90", "#22102e", "#5c1a48", "#96304c", "#c4684f", "#dca88c", "#efe6e6"], "interpolate": "rgb"},
                        "legend": {"orient": "none", "legendX": 400, "legendY": 0, "direction": "vertical", "gradientLength": 330, "gradientThickness": 22, "title": null,
                          "values": [-20, -10, 0, 10, 20], "labelExpr": "datum.value", "labelFontSize": 20, "labelOffset": 7, "labelColor": "#3d3d3d",
                          "gradientStrokeColor": "#808080", "gradientStrokeWidth": 1, "padding": 0}}
                    }
                  },
                  {
                    "data": {"values": []},
                    "mark": "point",
                    "encoding": {
                      "x": {"field": "x", "type": "quantitative", "axis": {"orient": "top", "values": [-3, -2, -1, 0, 1, 2, 3], "labels": false, "tickSize": -5, "title": null}},
                      "y": {"field": "y", "type": "quantitative", "axis": {"orient": "right", "offset": -18, "values": [100, 150, 200, 250, 300, 350, 400], "labels": false, "tickSize": -5,
                        "title": "Sensor Current I", "titleFontSize": 22, "titleX": 103, "titleY": 284, "titleAngle": 270, "titleAlign": "left", "titleBaseline": "alphabetic"}}
                    }
                  },
                  {
                    "data": {"values": []},
                    "mark": "point",
                    "encoding": {
                      "x": {"field": "x", "type": "quantitative", "axis": {"orient": "bottom", "values": [-3, -2, -1, 0, 1, 2, 3], "labels": false, "domain": false, "tickSize": -5,
                        "title": "SD", "titleFontSize": 16, "titleX": 183, "titleY": 67, "titleAlign": "left", "titleBaseline": "alphabetic"}},
                      "y": {"field": "y", "type": "quantitative", "axis": {"orient": "left", "values": [100, 150, 200, 250, 300, 350, 400], "labels": false, "domain": false, "tickSize": -5,
                        "title": "LP", "titleFontSize": 14, "titleX": -57, "titleY": 102, "titleAngle": 270, "titleAlign": "left", "titleBaseline": "alphabetic"}}
                    }
                  },
                  {
                    "data": {"values": []},
                    "mark": "point",
                    "encoding": {
                      "x": {"field": "x", "type": "quantitative", "axis": {"orient": "bottom", "labels": false, "ticks": false, "domain": false,
                        "title": "(mV)", "titleFontSize": 22, "titleX": 214, "titleY": 60, "titleAlign": "left", "titleBaseline": "alphabetic"}},
                      "y": {"field": "y", "type": "quantitative", "axis": {"orient": "right", "offset": -18, "labels": false, "ticks": false, "domain": false,
                        "title": "DS", "titleFontSize": 15, "titleX": 110, "titleY": 121, "titleAngle": 270, "titleAlign": "left", "titleBaseline": "alphabetic"}}
                    }
                  },
                  {
                    "data": {"values": []},
                    "mark": "point",
                    "encoding": {
                      "x": {"field": "x", "type": "quantitative", "axis": {"orient": "top", "labels": false, "ticks": false, "domain": false, "title": null}},
                      "y": {"field": "y", "type": "quantitative", "axis": {"orient": "left", "labels": false, "ticks": false, "domain": false,
                        "title": "(mV)", "titleFontSize": 23, "titleX": -66, "titleY": 80, "titleAngle": 270, "titleAlign": "left", "titleBaseline": "alphabetic"}}
                    }
                  },
                  {
                    "data": {"values": []},
                    "mark": "point",
                    "encoding": {
                      "x": {"field": "x", "type": "quantitative", "axis": {"orient": "top", "labels": false, "ticks": false, "domain": false, "title": null}},
                      "y": {"field": "y", "type": "quantitative", "axis": {"orient": "right", "offset": -18, "labels": false, "ticks": false, "domain": false,
                        "title": "(nA)", "titleFontSize": 22, "titleX": 103, "titleY": 91, "titleAngle": 270, "titleAlign": "left", "titleBaseline": "alphabetic"}}
                    }
                  }
                ],
                "resolve": {"axis": {"x": "independent", "y": "independent"}}
              },
              {"width": 632, "height": 84, "data": {"values": []}, "mark": "point", "encoding": {}},
              {
                "width": 452, "height": 309,
                "data": {"name": "trace"},
                "layer": [
                  {
                    "mark": {"type": "line", "color": "#4a98d4", "strokeWidth": 1.5},
                    "encoding": {
                      "x": {"field": "vb", "type": "quantitative", "scale": {"domain": [0.55, 0.75], "range": [37, 452], "nice": false, "zero": false},
                        "axis": {"orient": "bottom", "values": [0.55, 0.6, 0.65, 0.7, 0.75], "labelExpr": "datum.value", "ticks": false, "labelFontSize": 19, "labelPadding": 9,
                          "title": "Barrier Gate V", "titleFontSize": 22, "titleX": 152, "titleY": 55, "titleAlign": "left", "titleBaseline": "alphabetic"}},
                      "y": {"field": "i", "type": "quantitative", "scale": {"domain": [-0.03, 1.5], "nice": false, "zero": false},
                        "axis": {"orient": "left", "offset": -37, "values": [0, 0.5, 1, 1.5], "labelExpr": "datum.value", "ticks": false, "labelFontSize": 19, "labelPadding": 8,
                          "title": "Sensor Current I", "titleFontSize": 21, "titleX": -54, "titleY": 260, "titleAngle": 270, "titleAlign": "left", "titleBaseline": "alphabetic"}}
                    }
                  },
                  {
                    "data": {"values": []},
                    "mark": "point",
                    "encoding": {
                      "x": {"field": "vb", "type": "quantitative", "axis": {"orient": "top", "values": [0.55, 0.6, 0.65, 0.7, 0.75], "labels": false, "tickSize": -5, "title": null}},
                      "y": {"field": "i", "type": "quantitative", "axis": {"orient": "right", "values": [0, 0.5, 1, 1.5], "labels": false, "tickSize": -5, "title": null}}
                    }
                  },
                  {
                    "data": {"values": []},
                    "mark": "point",
                    "encoding": {
                      "x": {"field": "vb", "type": "quantitative", "axis": {"orient": "bottom", "values": [0.55, 0.6, 0.65, 0.7, 0.75], "labels": false, "domain": false, "tickSize": -5,
                        "title": "B1", "titleFontSize": 15, "titleX": 293, "titleY": 62, "titleAlign": "left", "titleBaseline": "alphabetic"}},
                      "y": {"field": "i", "type": "quantitative", "axis": {"orient": "left", "offset": -37, "values": [0, 0.5, 1, 1.5], "labels": false, "domain": false, "tickSize": -5,
                        "title": "ds", "titleFontSize": 15, "titleX": -47, "titleY": 105, "titleAngle": 270, "titleAlign": "left", "titleBaseline": "alphabetic"}}
                    }
                  },
                  {
                    "data": {"values": []},
                    "mark": "point",
                    "encoding": {
                      "x": {"field": "vb", "type": "quantitative", "axis": {"orient": "bottom", "labels": false, "ticks": false, "domain": false,
                        "title": "(V)", "titleFontSize": 22, "titleX": 317, "titleY": 55, "titleAlign": "left", "titleBaseline": "alphabetic"}},
                      "y": {"field": "i", "type": "quantitative", "axis": {"orient": "left", "offset": -37, "labels": false, "ticks": false, "domain": false,
                        "title": "(nA)", "titleFontSize": 21, "titleX": -54, "titleY": 84, "titleAngle": 270, "titleAlign": "left", "titleBaseline": "alphabetic"}}
                    }
                  }
                ],
                "resolve": {"axis": {"x": "independent", "y": "independent"}}
              },
              {"width": 632, "height": 71, "data": {"values": []}, "mark": "point", "encoding": {}}
            ],
            "spacing": 0,
            "center": true,
            "bounds": "flush"
          },
          {"width": 6, "height": 1030, "view": {"fill": "#a4c1ea"}, "data": {"values": []}, "mark": "point", "encoding": {}}
        ],
        "spacing": 0
      },
      {"width": 644, "height": 5, "view": {"fill": "#a4c1ea"}, "data": {"values": []}, "mark": "point", "encoding": {}}
    ],
    "spacing": 0
  }
],
"spacing": 18
}
